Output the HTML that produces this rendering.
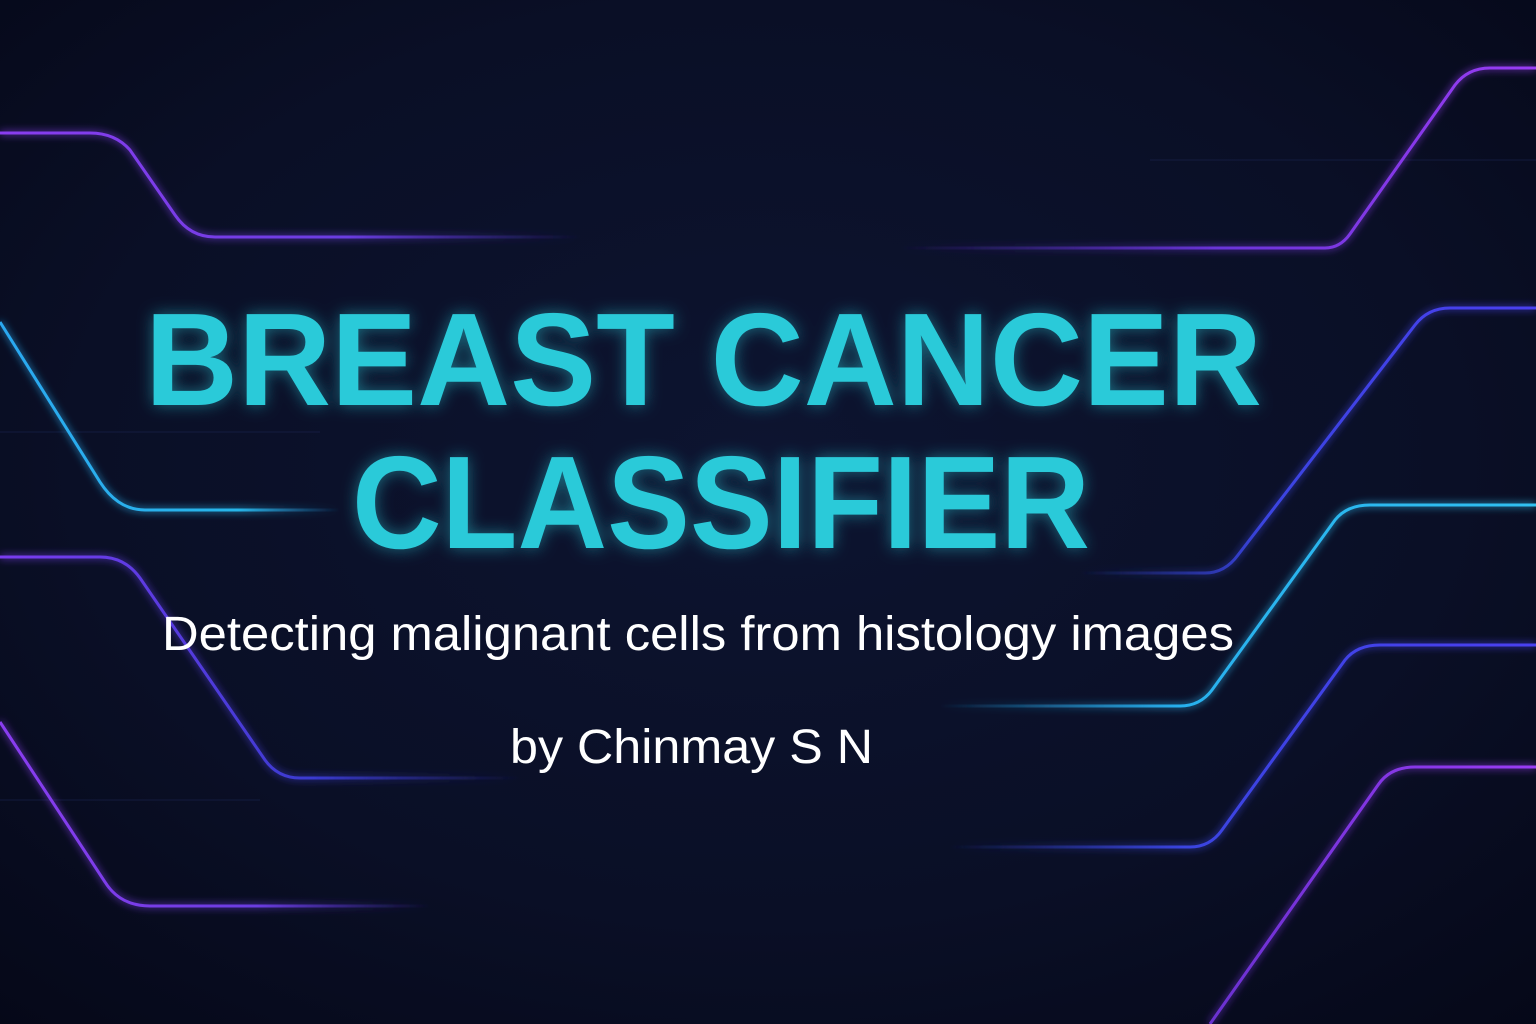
<!DOCTYPE html>
<html>
<head>
<meta charset="utf-8">
<style>
  html,body{margin:0;padding:0;width:1536px;height:1024px;overflow:hidden;background:#080c20;}
  svg{display:block;}
</style>
</head>
<body>
<svg width="1536" height="1024" viewBox="0 0 1536 1024" xmlns="http://www.w3.org/2000/svg">
  <defs>
    <radialGradient id="bg" cx="50%" cy="45%" r="75%">
      <stop offset="0" stop-color="#0d1430"/>
      <stop offset="0.6" stop-color="#0a0f26"/>
      <stop offset="1" stop-color="#050818"/>
    </radialGradient>
    <filter id="glow" x="-20%" y="-20%" width="140%" height="140%">
      <feGaussianBlur stdDeviation="4" result="b"/>
      <feMerge><feMergeNode in="b"/><feMergeNode in="SourceGraphic"/></feMerge>
    </filter>
    <filter id="tglow" x="-10%" y="-30%" width="120%" height="160%">
      <feGaussianBlur stdDeviation="8" result="b"/>
      <feComponentTransfer in="b" result="b2"><feFuncA type="linear" slope="0.5"/></feComponentTransfer>
      <feMerge><feMergeNode in="b2"/><feMergeNode in="SourceGraphic"/></feMerge>
    </filter>
    <linearGradient id="fadeL1" x1="0" x2="1"><stop offset="0" stop-color="#8a3cf0"/><stop offset="0.6" stop-color="#6a3ce0"/><stop offset="1" stop-color="#3a2aa0" stop-opacity="0"/></linearGradient>
    <linearGradient id="fadeL2" x1="0" x2="1"><stop offset="0" stop-color="#2aa8f0"/><stop offset="0.7" stop-color="#28b6ea"/><stop offset="1" stop-color="#2080c0" stop-opacity="0"/></linearGradient>
    <linearGradient id="fadeL3" x1="0" x2="1"><stop offset="0" stop-color="#7b3cf0"/><stop offset="0.6" stop-color="#3a3ad0"/><stop offset="1" stop-color="#2a2a90" stop-opacity="0"/></linearGradient>
    <linearGradient id="fadeR1" x1="0" x2="1"><stop offset="0" stop-color="#4a2ab0" stop-opacity="0"/><stop offset="0.5" stop-color="#6a34d8"/><stop offset="1" stop-color="#9a3cf5"/></linearGradient>
    <linearGradient id="fadeR2" x1="0" x2="1"><stop offset="0" stop-color="#2a3ab0" stop-opacity="0"/><stop offset="0.4" stop-color="#3a44e0"/><stop offset="1" stop-color="#4a40f0"/></linearGradient>
    <linearGradient id="fadeR3" x1="0" x2="1"><stop offset="0" stop-color="#2090d0" stop-opacity="0"/><stop offset="0.4" stop-color="#28b0ee"/><stop offset="1" stop-color="#30c0f0"/></linearGradient>
    <linearGradient id="fadeR5" x1="0" x2="1"><stop offset="0" stop-color="#6a30d0"/><stop offset="1" stop-color="#9a3cf5"/></linearGradient>
  </defs>

  <rect width="1536" height="1024" fill="url(#bg)"/>

  <!-- faint grid lines -->
  <g stroke="#1a2450" stroke-width="1" opacity="0.6">
    <line x1="0" y1="432" x2="320" y2="432"/>
    <line x1="1150" y1="160" x2="1536" y2="160"/>
    <line x1="0" y1="800" x2="260" y2="800"/>
  </g>

  <g fill="none" stroke-width="3" filter="url(#glow)">
    <!-- left side -->
    <path d="M0 133 L90 133 Q115 133 130 150 L175 215 Q190 237 215 237 L580 237" stroke="url(#fadeL1)"/>
    <path d="M0 322 L100 482 Q118 510 145 510 L340 510" stroke="url(#fadeL2)"/>
    <path d="M0 557 L100 557 Q125 557 140 578 L265 760 Q278 778 300 778 L520 778" stroke="url(#fadeL3)"/>
    <path d="M0 722 L105 882 Q120 906 150 906 L430 906" stroke="url(#fadeL1)"/>

    <!-- right side -->
    <path d="M900 248 L1325 248 Q1340 248 1350 234 L1455 85 Q1468 68 1490 68 L1536 68" stroke="url(#fadeR1)"/>
    <path d="M1080 573 L1205 573 Q1225 573 1238 555 L1415 325 Q1428 308 1450 308 L1536 308" stroke="url(#fadeR2)"/>
    <path d="M940 706 L1180 706 Q1200 706 1212 690 L1335 520 Q1347 505 1370 505 L1536 505" stroke="url(#fadeR3)"/>
    <path d="M950 847 L1190 847 Q1210 847 1222 830 L1345 660 Q1357 645 1380 645 L1536 645" stroke="url(#fadeR2)"/>
    <path d="M1210 1024 L1378 785 Q1390 767 1415 767 L1536 767" stroke="url(#fadeR5)"/>
  </g>

  <g font-family="'Liberation Sans', 'DejaVu Sans', sans-serif">
    <text x="145" y="405" font-size="132" font-weight="bold" fill="#2ccad9" textLength="1117" lengthAdjust="spacingAndGlyphs" filter="url(#tglow)">BREAST CANCER</text>
    <text x="352" y="548" font-size="132" font-weight="bold" fill="#2ccad9" textLength="738" lengthAdjust="spacingAndGlyphs" filter="url(#tglow)">CLASSIFIER</text>
    <text x="162" y="650" font-size="48" fill="#ffffff" textLength="1072" lengthAdjust="spacingAndGlyphs">Detecting malignant cells from histology images</text>
    <text x="510" y="763" font-size="48" fill="#ffffff" textLength="363" lengthAdjust="spacingAndGlyphs">by Chinmay S N</text>
  </g>
</svg>
</body>
</html>
